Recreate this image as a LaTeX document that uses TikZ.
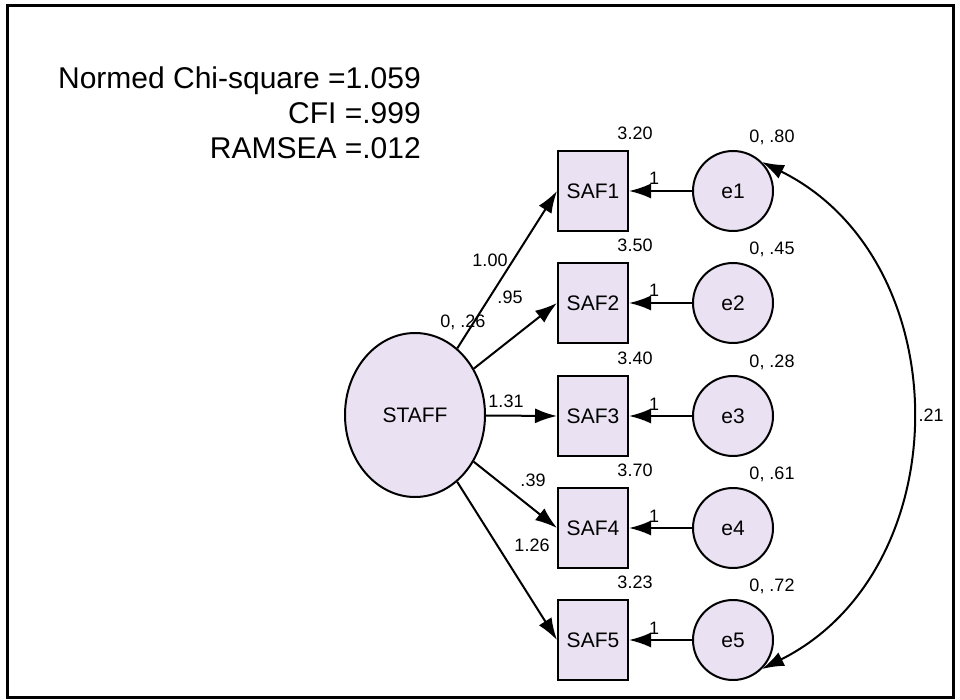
\documentclass[tikz,border=0pt]{standalone}
\usepackage{fontspec}
\setmainfont{Liberation Sans}
\usetikzlibrary{arrows.meta,positioning,shapes.geometric}
\definecolor{semfill}{RGB}{234,226,242}
\tikzset{
  obs/.style={draw,line width=2pt,fill=semfill,minimum width=70pt,minimum height=80pt,inner sep=0pt,font=\fontsize{21}{23}\selectfont},
  err/.style={draw,circle,line width=2pt,fill=semfill,minimum size=80pt,inner sep=0pt,font=\fontsize{21}{23}\selectfont},
  est/.style={font=\fontsize{18}{20}\selectfont,inner sep=1pt},
  path/.style={line width=2pt,-{Latex[length=22pt,width=15pt]}}
}
\begin{document}
\begin{tikzpicture}[x=1pt,y=-1pt]
  \useasboundingbox (0,0) rectangle (960,700);
  \draw[line width=3pt] (7,6) rectangle (953,697);
  \node[anchor=east,align=right,font=\fontsize{30}{35}\selectfont,inner sep=0pt] (fit) at (421,113)
    {Normed Chi-square =1.059\\CFI =.999\\RAMSEA =.012};
  \node[draw,ellipse,line width=2pt,fill=semfill,minimum width=140pt,minimum height=164pt,font=\fontsize{21}{23}\selectfont] (staff) at (415,415) {STAFF};
  \node[est] (vstaff) at (463,322) {0, .26};
  \foreach \i/\y/\m/\v in {1/191/3.20/.80, 2/303/3.50/.45, 3/416/3.40/.28, 4/528/3.70/.61, 5/640/3.23/.72}{
    \node[obs] (saf\i) at (593,\y) {SAF\i};
    \node[err] (e\i) at (733,\y) {e\i};
    \node[est] (m\i) at (635,\y-58) {\m};
    \node[est] (v\i) at (772,\y-54) {0, \v};
    \draw[path] (e\i) -- (saf\i) node[est,pos=0.6,above=4pt] {1};
    \draw[path] (staff) -- (saf\i.west);
  }
  \node[est] at (490,260) {1.00};
  \node[est] at (510,297) {.95};
  \node[est] at (506,401) {1.31};
  \node[est] at (533,480) {.39};
  \node[est] at (532,545) {1.26};
  \draw[line width=2pt,{Latex[length=22pt,width=15pt]}-{Latex[length=22pt,width=15pt]}]
    (e1.north east) .. controls (960,260) and (960,570) .. (e5.south east)
    node[est,pos=0.5,right=6pt] {.21};
\end{tikzpicture}
\end{document}
